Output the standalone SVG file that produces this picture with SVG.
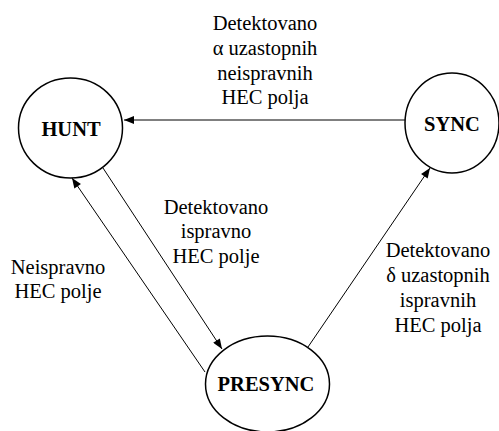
<svg xmlns="http://www.w3.org/2000/svg" width="499" height="431" viewBox="0 0 499 431">
  <defs>
    <marker id="arrow" viewBox="0 0 10 8" refX="10" refY="4" markerWidth="11" markerHeight="8" markerUnits="userSpaceOnUse" orient="auto">
      <path d="M0,0 L10,4 L0,8 Z" fill="#000"/>
    </marker>
  </defs>
  <style>
    .state { fill: #fff; stroke: #000; stroke-width: 1.5; }
    text { font-family: 'Times New Roman', 'Liberation Serif', Tinos, serif; fill: #000; text-anchor: middle; }
    .name { font-weight: bold; font-size: 20.5px; }
    .lbl { font-size: 20.5px; }
    .edge { stroke: #000; stroke-width: 1; fill: none; marker-end: url(#arrow); }
  </style>
  <rect width="499" height="431" fill="#fff"/>

  <!-- transitions between the three states -->
  <g id="connectors">
    <line class="edge" x1="405" y1="120" x2="124" y2="120"/>
    <line class="edge" x1="103" y1="168" x2="222" y2="349"/>
    <line class="edge" x1="205" y1="372" x2="72" y2="178"/>
    <line class="edge" x1="308" y1="347" x2="430" y2="168"/>
  </g>

  <g id="hunt">
    <ellipse class="state" cx="70.5" cy="128" rx="52" ry="50"/>
    <text class="name" x="71" y="136">HUNT</text>
  </g>
  <g id="sync">
    <ellipse class="state" cx="452" cy="123" rx="47" ry="50"/>
    <text class="name" x="452" y="131">SYNC</text>
  </g>
  <g id="presync">
    <ellipse class="state" cx="267.5" cy="384" rx="62" ry="48"/>
    <text class="name" x="266" y="391">PRESYNC</text>
  </g>

  <g id="labels">
    <text class="lbl" x="265" y="30">Detektovano</text>
    <text class="lbl" x="265" y="55">α uzastopnih</text>
    <text class="lbl" x="265" y="80">neispravnih</text>
    <text class="lbl" x="265" y="104">HEC polja</text>

    <text class="lbl" x="216" y="214">Detektovano</text>
    <text class="lbl" x="216" y="238">ispravno</text>
    <text class="lbl" x="216" y="263">HEC polje</text>

    <text class="lbl" x="58" y="274">Neispravno</text>
    <text class="lbl" x="58" y="298">HEC polje</text>

    <text class="lbl" x="438" y="257">Detektovano</text>
    <text class="lbl" x="438" y="282">δ uzastopnih</text>
    <text class="lbl" x="438" y="307">ispravnih</text>
    <text class="lbl" x="438" y="332">HEC polja</text>
  </g>
</svg>
